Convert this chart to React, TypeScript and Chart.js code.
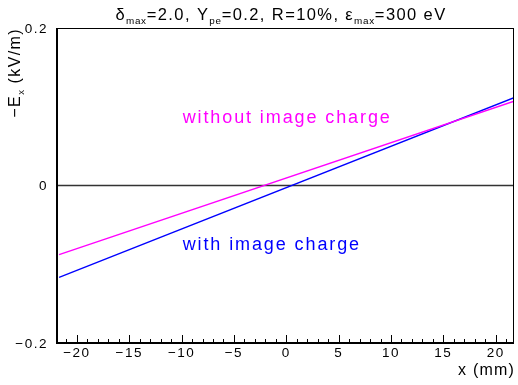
import React, { useEffect, useRef } from "react";
import { Chart, registerables } from "chart.js";

Chart.register(...registerables);

// ---- data ----
const xRange = [-21.9, 21.75];
const yRange = [-0.2, 0.2];
const xPoints = [-21.7, 21.75];
const withoutImageCharge = [-0.0879, 0.107];
const withImageCharge = [-0.1166, 0.1115];
const xMajorTicks = [-20, -15, -10, -5, 0, 5, 10, 15, 20];
const xTickLabels = ["\u221220", "\u221215", "\u221210", "\u22125", "0", "5", "10", "15", "20"];
const yMajorTicks = [-0.2, 0, 0.2];
const yTickLabels = ["\u22120.2", "0", "0.2"];
const seriesNames = ["without image charge", "with image charge"];
const seriesColors = ["#ff00ff", "#0000ff"];
// label anchors in data coordinates
const labelAnchorX = [-9.9, -9.9];
const labelAnchorY = [0.079, -0.0815];

const FONT = "'Liberation Sans', Arial, sans-serif";

type Seg = { t: string; sub?: boolean };

function richWidth(ctx: CanvasRenderingContext2D, segs: Seg[], size: number, ls: number) {
  let w = 0;
  for (const s of segs) {
    const fs = s.sub ? size * 0.6 : size;
    ctx.font = `${fs}px ${FONT}`;
    (ctx as any).letterSpacing = `${s.sub ? ls * 0.5 : ls}px`;
    w += ctx.measureText(s.t).width;
  }
  return w;
}

function drawRich(
  ctx: CanvasRenderingContext2D,
  segs: Seg[],
  x: number,
  y: number,
  size: number,
  ls: number,
  align: "left" | "center" | "right",
  color: string
) {
  const w = richWidth(ctx, segs, size, ls);
  let cx = align === "left" ? x : align === "center" ? x - w / 2 : x - w;
  ctx.fillStyle = color;
  ctx.textAlign = "left";
  ctx.textBaseline = "alphabetic";
  for (const s of segs) {
    const fs = s.sub ? size * 0.6 : size;
    ctx.font = `${fs}px ${FONT}`;
    (ctx as any).letterSpacing = `${s.sub ? ls * 0.5 : ls}px`;
    ctx.fillText(s.t, cx, s.sub ? y + size * 0.22 : y);
    cx += ctx.measureText(s.t).width;
  }
  (ctx as any).letterSpacing = "0px";
}

const decorPlugin = {
  id: "rootDecor",
  beforeDatasetsDraw(chart: any) {
    const ctx: CanvasRenderingContext2D = chart.ctx;
    const ys = chart.scales.y;
    const { left, right } = chart.chartArea;
    ctx.save();
    ctx.strokeStyle = "#333";
    ctx.lineWidth = 1.5;
    const y0 = ys.getPixelForValue(0);
    ctx.beginPath();
    ctx.moveTo(left, y0);
    ctx.lineTo(right, y0);
    ctx.stroke();
    ctx.restore();
  },
  afterDraw(chart: any) {
    const ctx: CanvasRenderingContext2D = chart.ctx;
    const xs = chart.scales.x;
    const ys = chart.scales.y;
    const { left, right, top, bottom } = chart.chartArea;
    ctx.save();
    // frame
    ctx.strokeStyle = "#000";
    ctx.lineWidth = 1;
    ctx.strokeRect(left + 0.5, top + 0.5, right - left - 1, bottom - top - 1);
    ctx.lineWidth = 2;
    ctx.beginPath();
    ctx.moveTo(left, top);
    ctx.lineTo(left, bottom);
    ctx.lineTo(right, bottom);
    ctx.stroke();

    // x ticks
    ctx.lineWidth = 1;
    ctx.beginPath();
    const lo = Math.ceil(xs.min);
    const hi = Math.floor(xs.max);
    for (let v = lo; v <= hi; v++) {
      const px = Math.round(xs.getPixelForValue(v)) + 0.5;
      const len = xMajorTicks.includes(v) ? 8 : 4;
      ctx.moveTo(px, bottom);
      ctx.lineTo(px, bottom - len);
    }
    ctx.stroke();

    // x tick labels
    ctx.fillStyle = "#000";
    ctx.font = `13.5px ${FONT}`;
    (ctx as any).letterSpacing = "1.5px";
    ctx.textAlign = "center";
    ctx.textBaseline = "middle";
    xMajorTicks.forEach((v, i) => {
      ctx.fillText(xTickLabels[i], xs.getPixelForValue(v), bottom + 10);
    });
    // y tick labels
    ctx.textAlign = "right";
    yMajorTicks.forEach((v, i) => {
      ctx.fillText(yTickLabels[i], left - 9, ys.getPixelForValue(v) + 1);
    });
    (ctx as any).letterSpacing = "0px";

    // x title
    drawRich(ctx, [{ t: "x (mm)" }], right + 1, bottom + 32, 16, 1.2, "right", "#000");

    // y title (rotated)
    ctx.save();
    ctx.translate(20, top);
    ctx.rotate(-Math.PI / 2);
    drawRich(ctx, [{ t: "\u2212E" }, { t: "x", sub: true }, { t: " (kV/m)" }], 0, 0, 16, 1.4, "right", "#000");
    ctx.restore();

    // title
    drawRich(
      ctx,
      [
        { t: "\u03b4" },
        { t: "max", sub: true },
        { t: "=2.0, Y" },
        { t: "pe", sub: true },
        { t: "=0.2, R=10%, \u03b5" },
        { t: "max", sub: true },
        { t: "=300 eV" },
      ],
      281,
      20,
      16.5,
      1.4,
      "center",
      "#000"
    );

    // series labels
    seriesNames.forEach((name, i) => {
      drawRich(
        ctx,
        [{ t: name }],
        xs.getPixelForValue(labelAnchorX[i]),
        ys.getPixelForValue(labelAnchorY[i]),
        18,
        1.9,
        "left",
        seriesColors[i]
      );
    });
    ctx.restore();
  },
};

export default function App() {
  const ref = useRef<HTMLCanvasElement>(null);
  useEffect(() => {
    document.body.style.margin = "0";
    const canvas = ref.current!;
    const chart = new Chart(canvas, {
      type: "scatter",
      data: {
        datasets: [
          {
            label: seriesNames[0],
            data: xPoints.map((x, i) => ({ x, y: withoutImageCharge[i] })),
            borderColor: seriesColors[0],
            backgroundColor: seriesColors[0],
            showLine: true,
            pointRadius: 0,
            borderWidth: 1.3,
          },
          {
            label: seriesNames[1],
            data: xPoints.map((x, i) => ({ x, y: withImageCharge[i] })),
            borderColor: seriesColors[1],
            backgroundColor: seriesColors[1],
            showLine: true,
            pointRadius: 0,
            borderWidth: 1.3,
          },
        ],
      },
      options: {
        responsive: false,
        animation: false,
        events: [],
        layout: { padding: { left: 57, right: 4, top: 28, bottom: 42 } },
        plugins: { legend: { display: false }, tooltip: { enabled: false }, title: { display: false } },
        scales: {
          x: { type: "linear", min: xRange[0], max: xRange[1], display: false },
          y: { type: "linear", min: yRange[0], max: yRange[1], display: false },
        },
      },
      plugins: [decorPlugin],
    });
    return () => chart.destroy();
  }, []);
  return (
    <div style={{ width: 518, height: 385, background: "#fff" }}>
      <canvas ref={ref} width={518} height={385} style={{ display: "block" }} />
    </div>
  );
}
